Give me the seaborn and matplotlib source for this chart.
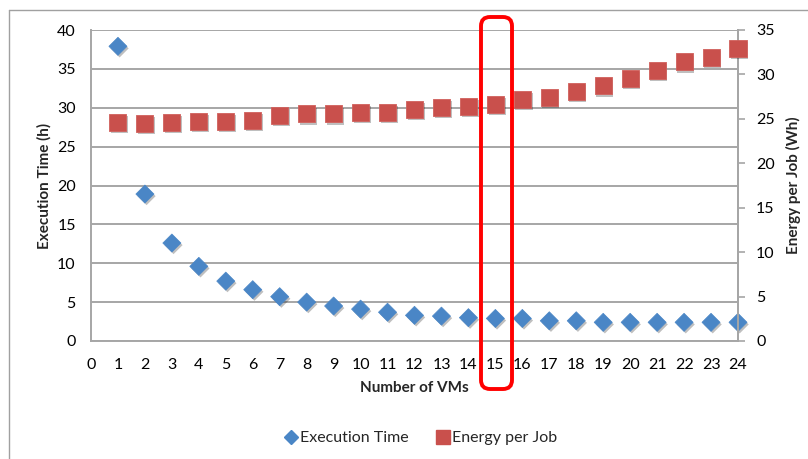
import numpy as np
import pandas as pd
import seaborn as sns
import matplotlib.pyplot as plt
import matplotlib.patheffects as pe
from matplotlib.patches import FancyBboxPatch
from matplotlib.lines import Line2D
from matplotlib.transforms import IdentityTransform

# Number of virtual machines
vms = list(range(1, 25))
# Execution time in hours (left axis)
exec_time = [37.9, 18.9, 12.6, 9.6, 7.7, 6.6, 5.7, 5.0, 4.5, 4.1, 3.7, 3.3,
             3.2, 3.0, 2.9, 2.9, 2.6, 2.6, 2.4, 2.4, 2.4, 2.4, 2.4, 2.4]
# Energy per job in Wh (right axis)
energy = [24.6, 24.45, 24.6, 24.75, 24.75, 24.85, 25.4, 25.55, 25.55, 25.7, 25.7, 26.05,
          26.25, 26.4, 26.6, 27.2, 27.4, 28.1, 28.7, 29.55, 30.4, 31.4, 31.9, 32.9]

x_ticks = list(range(0, 25))
left_ticks = list(range(0, 41, 5))
right_ticks = list(range(0, 36, 5))

df = pd.DataFrame({"vms": vms, "exec_time": exec_time, "energy": energy})

sns.set_theme(style="white")
plt.rcParams['font.family'] = ['Lato', 'DejaVu Sans']

W, H = 808, 459
fig = plt.figure(figsize=(W / 100, H / 100), dpi=100)
fig.patch.set_facecolor("white")

L, R, T, B = 91, 738, 30, 341
ax = fig.add_axes([L / W, 1 - B / H, (R - L) / W, (B - T) / H])
ax2 = ax.twinx()

grid_c = "#a6a6a6"
blue = "#4A86C6"
red = "#C9504C"

shadow = [pe.SimplePatchShadow(offset=(1.2, -1.5), shadow_rgbFace="#000000", alpha=0.25), pe.Normal()]

sns.scatterplot(data=df, x="vms", y="exec_time", ax=ax, marker="D", s=85,
                color=blue, edgecolor=blue, linewidth=0.5, zorder=3, legend=False)
sns.scatterplot(data=df, x="vms", y="energy", ax=ax2, marker="s", s=150,
                color=red, edgecolor="#d0605c", linewidth=0.6, zorder=3, legend=False)
for a in (ax, ax2):
    for coll in a.collections:
        coll.set_path_effects(shadow)
        coll.set_clip_on(False)

ax.set_xlim(0, 24)
ax.set_ylim(0, 40)
ax2.set_ylim(0, 35)
ax.set_xticks(x_ticks)
ax.set_yticks(left_ticks)
ax2.set_yticks(right_ticks)

ax.yaxis.grid(True, color=grid_c, linewidth=1.4)
ax.xaxis.grid(False)
ax2.grid(False)
ax.set_axisbelow(True)

for a in (ax, ax2):
    for side, sp in a.spines.items():
        sp.set_color(grid_c)
        sp.set_linewidth(1.4)
    a.spines["top"].set_visible(False)
ax2.spines["left"].set_visible(False)
ax2.spines["bottom"].set_visible(False)

ax.tick_params(axis="x", length=0, pad=12, labelsize=11.5, colors="black")
ax.tick_params(axis="y", length=0, pad=11, labelsize=11.5, colors="black")
ax2.tick_params(axis="y", direction="out", length=5, width=1.2, color=grid_c,
                pad=8, labelsize=11.5, labelcolor="black")

ax.set_xlabel("Number of VMs", fontsize=11, fontweight="bold", labelpad=7)
ax.set_ylabel("Execution Time (h)", fontsize=11, fontweight="bold", labelpad=4)
ax2.set_ylabel("Energy per Job (Wh)", fontsize=11, fontweight="bold", labelpad=8)

handles = [
    Line2D([], [], marker="D", linestyle="none", color=blue, markersize=7),
    Line2D([], [], marker="s", linestyle="none", color=red, markersize=10),
]
fig.legend(handles, ["Execution Time", "Energy per Job"], loc="center",
           bbox_to_anchor=(420 / W, 1 - 438 / H), ncol=2, frameon=False,
           fontsize=11.5, handletextpad=0.1, columnspacing=1.6, handlelength=1.0)

# Outer chart frame (top and left edges)
pix = IdentityTransform()
fig.add_artist(Line2D([9, 9], [0, H - 10], transform=pix, color="#a0a0a0", linewidth=1))
fig.add_artist(Line2D([9, W], [H - 10, H - 10], transform=pix, color="#a0a0a0", linewidth=1))

# Highlight around 15 VMs
box = FancyBboxPatch((481, H - 389), 31, 372,
                     boxstyle="round,pad=0,rounding_size=9",
                     transform=pix, facecolor="none", edgecolor="#ff0000",
                     linewidth=2.8, zorder=10)
fig.add_artist(box)

fig.savefig("out.png", dpi=100)
